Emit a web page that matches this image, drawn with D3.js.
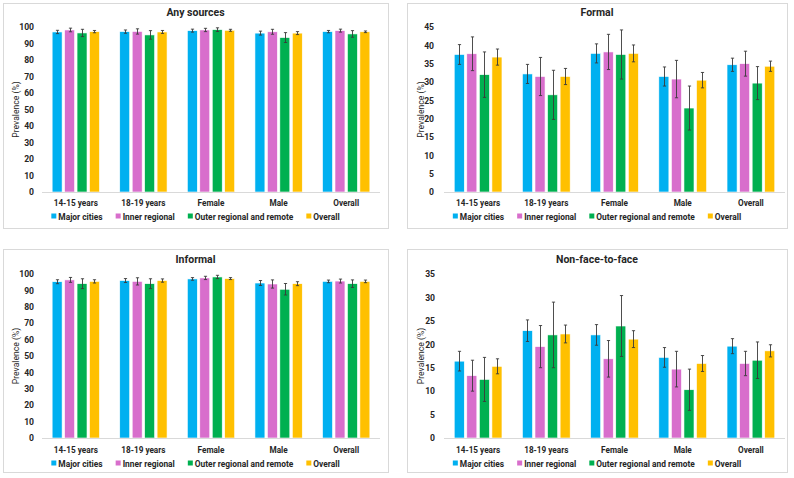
<!DOCTYPE html>
<html><head><meta charset="utf-8">
<script src="https://cdn.jsdelivr.net/npm/d3@7"></script>
<style>
body{margin:0;background:#fff;}
svg{display:block;font-family:Roboto, "Liberation Sans", Arial, sans-serif;}
</style></head>
<body><svg id="chart" width="794" height="478"></svg>
<script>
const categories = ["14-15 years","18-19 years","Female","Male","Overall"];
const seriesNames = ["Major cities","Inner regional","Outer regional and remote","Overall"];
const seriesColors = ["#00B0F0","#D86ECC","#00B050","#FFC000"];

// values per series (rows) for each category (columns), with error half-widths
const anyVals = [[97.0,97.2,97.8,96.3,97.2],[98.2,97.3,98.2,97.1,97.8],[96.4,95.2,98.4,93.6,95.8],[97.2,97.0,98.0,96.3,97.1]];
const anyErr  = [[1.0,1.0,0.9,1.2,0.7],[1.1,1.6,1.0,1.5,0.9],[2.2,2.6,1.1,3.0,2.0],[0.7,0.9,0.6,0.9,0.5]];

const formalVals = [[37.5,32.2,37.8,31.5,34.7],[37.7,31.5,38.2,30.8,35.0],[32.0,26.5,37.5,22.9,29.7],[36.8,31.5,37.8,30.5,34.3]];
const formalErr  = [[2.7,2.6,2.6,2.6,1.8],[4.6,5.2,4.8,5.1,3.4],[6.2,6.7,6.7,6.0,4.5],[2.2,2.2,2.3,2.1,1.4]];

const informalVals = [[95.3,96.0,97.0,94.5,95.5],[96.4,95.5,97.6,93.9,95.7],[94.1,94.1,98.2,90.7,94.1],[95.5,96.0,97.2,94.1,95.5]];
const informalErr  = [[1.2,1.2,0.8,1.5,0.8],[1.5,2.2,1.0,2.5,1.2],[3.0,3.0,1.0,3.5,2.3],[1.0,1.0,0.6,1.2,0.8]];

const nftfVals = [[16.4,22.9,22.0,17.2,19.6],[13.3,19.5,16.9,14.7,15.9],[12.5,22.0,23.9,10.3,16.6],[15.3,22.2,21.1,15.9,18.6]];
const nftfErr  = [[2.1,2.3,2.2,2.1,1.6],[3.3,4.5,3.9,3.8,2.6],[4.7,7.0,6.5,4.4,3.9],[1.6,1.9,1.8,1.7,1.3]];

const panelTitles = ["Any sources","Formal","Informal","Non-face-to-face"];
const yMaxes = [100,45,100,35];
const yStepsTick = [10,5,10,5];

const panels = [
  {title:panelTitles[0], vals:anyVals, err:anyErr, ymax:yMaxes[0], step:yStepsTick[0],
   box:[3,3,385,225], px:[42,380], py:[27,192], titleY:16, labelY:206, legendY:217, yTitleX:16, tickX:34},
  {title:panelTitles[1], vals:formalVals, err:formalErr, ymax:yMaxes[1], step:yStepsTick[1],
   box:[407,3,380,225], px:[444,785], py:[27,192], titleY:16, labelY:206, legendY:217, yTitleX:421, tickX:434},
  {title:panelTitles[2], vals:informalVals, err:informalErr, ymax:yMaxes[2], step:yStepsTick[2],
   box:[3,249,385,223], px:[42,380], py:[274,438], titleY:263, labelY:453, legendY:464, yTitleX:16, tickX:34},
  {title:panelTitles[3], vals:nftfVals, err:nftfErr, ymax:yMaxes[3], step:yStepsTick[3],
   box:[407,249,380,223], px:[444,785], py:[274,438], titleY:263, labelY:453, legendY:464, yTitleX:421, tickX:435}
];

const svg = d3.select("#chart");
const textCol = "#262626";

panels.forEach(p => {
  const g = svg.append("g");
  g.append("rect").attr("x",p.box[0]+0.5).attr("y",p.box[1]+0.5)
    .attr("width",p.box[2]).attr("height",p.box[3])
    .attr("fill","#fff").attr("stroke","#d9d9d9").attr("stroke-width",1);

  const x0 = d3.scaleBand().domain(categories).range(p.px).paddingInner(0.3).paddingOuter(0.15);
  const x1 = d3.scaleBand().domain(d3.range(seriesNames.length)).range([0,x0.bandwidth()]).paddingInner(0.2);
  const y = d3.scaleLinear().domain([0,p.ymax]).range([p.py[1],p.py[0]]);

  // title
  g.append("text").attr("x",p.box[0]+p.box[2]/2).attr("y",p.titleY)
    .attr("text-anchor","middle").attr("font-size",10.5).attr("font-weight",700)
    .attr("fill",textCol).text(p.title);

  // y axis
  const yAxis = d3.axisLeft(y).tickValues(d3.range(0,p.ymax+0.001,p.step)).tickSize(0).tickPadding(0);
  const ya = g.append("g").attr("transform",`translate(${p.tickX},0)`).call(yAxis);
  ya.select(".domain").remove();
  ya.selectAll("text").attr("font-size",8.6).attr("font-weight",700).attr("fill",textCol)
    .attr("font-family","Roboto, sans-serif");

  // y title
  g.append("text").attr("transform",`translate(${p.yTitleX},${(p.py[0]+p.py[1])/2}) rotate(-90)`)
    .attr("text-anchor","middle").attr("dy","0.35em").attr("font-size",8.6).attr("fill",textCol)
    .text("Prevalence (%)");

  // bars
  const data = [];
  categories.forEach((c,ci) => seriesNames.forEach((s,si) => {
    data.push({c, si, v:p.vals[si][ci], e:p.err[si][ci]});
  }));
  g.append("g").selectAll("rect").data(data).join("rect")
    .attr("x",d=>x0(d.c)+x1(d.si)).attr("width",x1.bandwidth())
    .attr("y",d=>y(d.v)).attr("height",d=>y(0)-y(d.v))
    .attr("fill",d=>seriesColors[d.si]).attr("stroke","#fff").attr("stroke-width",0.6);

  // baseline
  g.append("line").attr("x1",p.px[0]).attr("x2",p.px[1]).attr("y1",y(0)+0.5).attr("y2",y(0)+0.5)
    .attr("stroke","#d9d9d9").attr("stroke-width",1);

  // error bars
  const eg = g.append("g").attr("stroke","#3a3a3a").attr("stroke-width",0.9);
  data.forEach(d => {
    const cx = Math.round(x0(d.c)+x1(d.si)+x1.bandwidth()/2)+0.5;
    eg.append("line").attr("x1",cx).attr("x2",cx).attr("y1",y(d.v+d.e)).attr("y2",y(d.v-d.e));
    [d.v+d.e,d.v-d.e].forEach(t => eg.append("line").attr("x1",cx-1.6).attr("x2",cx+1.6).attr("y1",y(t)).attr("y2",y(t)));
  });

  // category labels
  g.append("g").selectAll("text").data(categories).join("text")
    .attr("x",d=>x0(d)+x0.bandwidth()/2).attr("y",p.labelY)
    .attr("text-anchor","middle").attr("font-size",8.2).attr("font-weight",700).attr("fill",textCol)
    .text(d=>d);

  // legend
  const lg = g.append("g");
  let cx = 0;
  seriesNames.forEach((s,i) => {
    const it = lg.append("g");
    it.append("rect").attr("x",0).attr("y",-3.5).attr("width",5).attr("height",5).attr("fill",seriesColors[i]);
    const t = it.append("text").attr("x",7).attr("y",0).attr("dy","0.32em").attr("font-size",8.4)
      .attr("font-weight",700).attr("fill",textCol).text(s);
    const w = 7 + t.node().getComputedTextLength();
    it.attr("transform",`translate(${cx},${p.legendY})`);
    cx += w + 13;
  });
  const total = cx - 13;
  lg.attr("transform",`translate(${p.box[0]+p.box[2]/2 - total/2},0)`);
});
</script></body></html>
